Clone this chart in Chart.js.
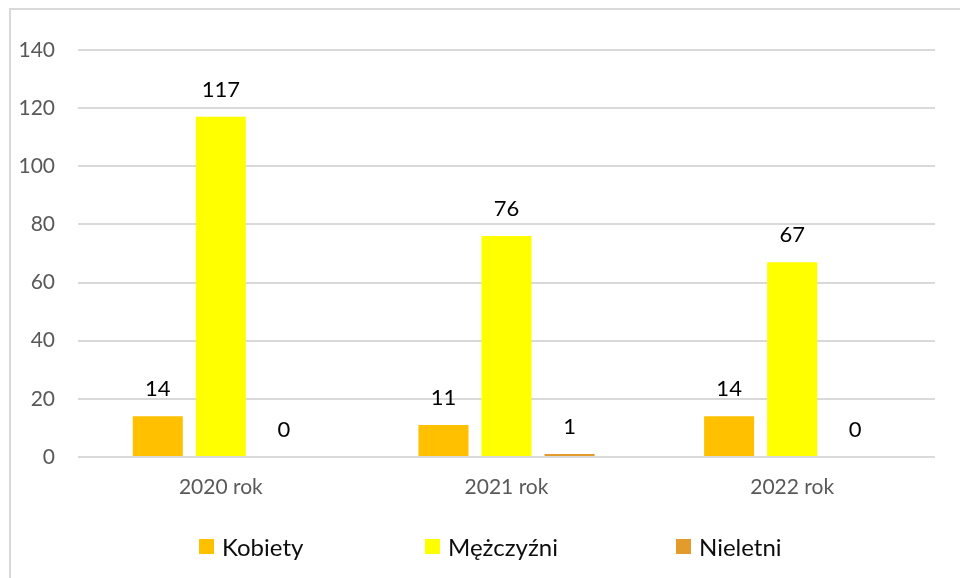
<!DOCTYPE html>
<html>
<head>
<meta charset="utf-8">
<script src="https://cdn.jsdelivr.net/npm/chart.js@4"></script>
<style>
  html, body { margin: 0; padding: 0; background: #ffffff; }
  canvas { display: block; }
</style>
</head>
<body>
<canvas id="chart" width="960" height="578"></canvas>
<script>
// Categories and series values
const categories = ['2020 rok', '2021 rok', '2022 rok'];
const kobiety = [14, 11, 14];
const mezczyzni = [117, 76, 67];
const nieletni = [0, 1, 0];
const seriesNames = ['Kobiety', 'Mężczyźni', 'Nieletni'];
const yTicks = [0, 20, 40, 60, 80, 100, 120, 140];

const FONT = 'Lato, "Liberation Sans", sans-serif';

// Frame around the whole chart plus white background
const framePlugin = {
  id: 'frame',
  beforeDraw(chart) {
    const ctx = chart.ctx;
    ctx.save();
    ctx.fillStyle = '#ffffff';
    ctx.fillRect(0, 0, chart.width, chart.height);
    ctx.strokeStyle = '#d9d9d9';
    ctx.lineWidth = 2;
    ctx.beginPath();
    ctx.moveTo(10, chart.height + 5);
    ctx.lineTo(10, 9);
    ctx.lineTo(chart.width + 5, 9);
    ctx.stroke();
    ctx.restore();
  }
};

// Value labels above each bar
const valueLabels = {
  id: 'valueLabels',
  afterDatasetsDraw(chart) {
    const ctx = chart.ctx;
    ctx.save();
    ctx.font = '22px ' + FONT;
    ctx.fillStyle = '#000000';
    ctx.textAlign = 'center';
    ctx.textBaseline = 'alphabetic';
    chart.data.datasets.forEach((ds, di) => {
      const meta = chart.getDatasetMeta(di);
      meta.data.forEach((bar, i) => {
        ctx.fillText(String(ds.data[i]), bar.x, bar.y - 20);
      });
    });
    ctx.restore();
  }
};

// Legend row at the bottom with square markers
const bottomLegend = {
  id: 'bottomLegend',
  afterDraw(chart, args, opts) {
    const ctx = chart.ctx;
    ctx.save();
    ctx.font = '24px ' + FONT;
    ctx.textBaseline = 'middle';
    ctx.textAlign = 'left';
    chart.data.datasets.forEach((ds, di) => {
      const x = opts.itemX[di];
      const cy = opts.centerY;
      ctx.fillStyle = ds.backgroundColor;
      ctx.fillRect(x, cy - 8, 15, 15);
      ctx.fillStyle = '#0d0d0d';
      ctx.fillText(ds.label, x + 23, cy + 1);
    });
    ctx.restore();
  }
};

new Chart(document.getElementById('chart'), {
  type: 'bar',
  data: {
    labels: categories,
    datasets: [
      { label: seriesNames[0], data: kobiety, backgroundColor: '#FFC000' },
      { label: seriesNames[1], data: mezczyzni, backgroundColor: '#FFFF00' },
      { label: seriesNames[2], data: nieletni, backgroundColor: '#E39B2B' }
    ]
  },
  options: {
    responsive: false,
    animation: false,
    devicePixelRatio: 1,
    layout: { padding: { top: 50, right: 25, left: 0, bottom: 0 } },
    datasets: {
      bar: { categoryPercentage: 0.662, barPercentage: 0.794 }
    },
    plugins: {
      legend: { display: false },
      tooltip: { enabled: false },
      bottomLegend: { itemX: [199, 425, 676], centerY: 547 }
    },
    scales: {
      x: {
        grid: { display: false, drawTicks: false },
        border: { display: false },
        ticks: { color: '#595959', font: { family: FONT, size: 21 }, padding: 18 },
        afterFit(scale) { scale.height = 121; }
      },
      y: {
        min: 0,
        max: 140,
        afterBuildTicks(scale) { scale.ticks = yTicks.map(v => ({ value: v })); },
        grid: { color: '#d9d9d9', lineWidth: 2, drawTicks: false },
        border: { display: false },
        ticks: { color: '#595959', font: { family: FONT, size: 21 }, padding: 23 },
        afterFit(scale) { scale.width = 78; }
      }
    }
  },
  plugins: [framePlugin, valueLabels, bottomLegend]
});
</script>
</body>
</html>
